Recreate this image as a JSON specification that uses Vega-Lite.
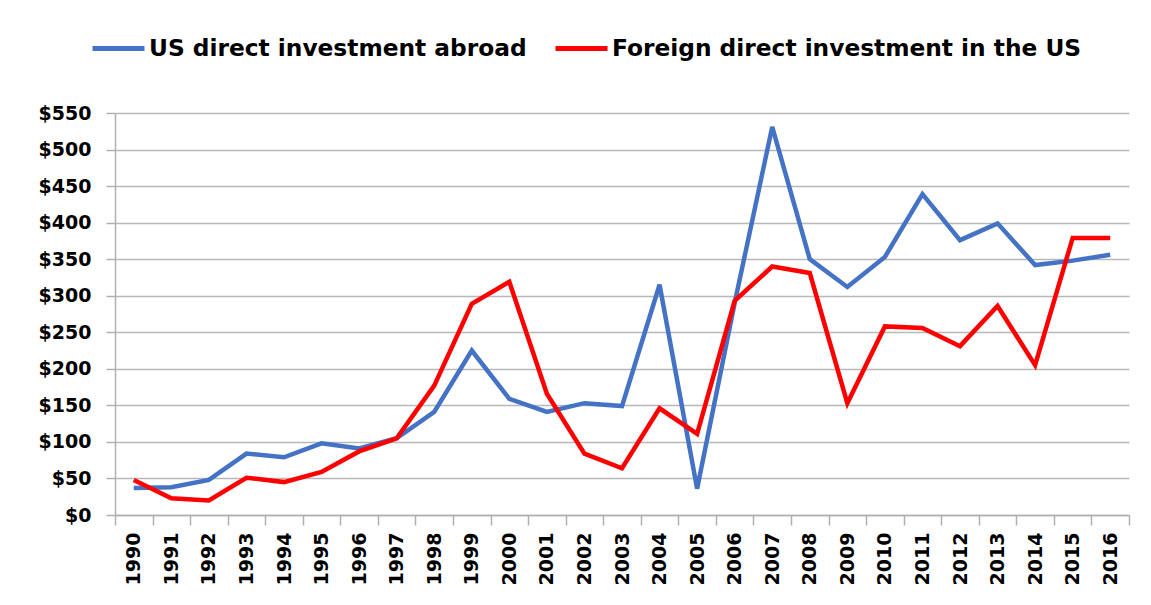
{
  "$schema": "https://vega.github.io/schema/vega-lite/v6.json",
  "width": 1014,
  "height": 402,
  "padding": {"left": 38, "top": 20, "right": 21, "bottom": 10},
  "background": "white",
  "config": {
    "font": "DejaVu Sans",
    "view": {"stroke": null}
  },
  "data": {
    "values": [
      {"year": "1990", "series": "US direct investment abroad", "value": 37},
      {"year": "1991", "series": "US direct investment abroad", "value": 38},
      {"year": "1992", "series": "US direct investment abroad", "value": 48},
      {"year": "1993", "series": "US direct investment abroad", "value": 84},
      {"year": "1994", "series": "US direct investment abroad", "value": 79},
      {"year": "1995", "series": "US direct investment abroad", "value": 98},
      {"year": "1996", "series": "US direct investment abroad", "value": 91},
      {"year": "1997", "series": "US direct investment abroad", "value": 105},
      {"year": "1998", "series": "US direct investment abroad", "value": 141},
      {"year": "1999", "series": "US direct investment abroad", "value": 225},
      {"year": "2000", "series": "US direct investment abroad", "value": 159},
      {"year": "2001", "series": "US direct investment abroad", "value": 141},
      {"year": "2002", "series": "US direct investment abroad", "value": 153},
      {"year": "2003", "series": "US direct investment abroad", "value": 149},
      {"year": "2004", "series": "US direct investment abroad", "value": 315},
      {"year": "2005", "series": "US direct investment abroad", "value": 36},
      {"year": "2006", "series": "US direct investment abroad", "value": 290},
      {"year": "2007", "series": "US direct investment abroad", "value": 531},
      {"year": "2008", "series": "US direct investment abroad", "value": 350},
      {"year": "2009", "series": "US direct investment abroad", "value": 312},
      {"year": "2010", "series": "US direct investment abroad", "value": 353},
      {"year": "2011", "series": "US direct investment abroad", "value": 439},
      {"year": "2012", "series": "US direct investment abroad", "value": 376},
      {"year": "2013", "series": "US direct investment abroad", "value": 399},
      {"year": "2014", "series": "US direct investment abroad", "value": 342},
      {"year": "2015", "series": "US direct investment abroad", "value": 348},
      {"year": "2016", "series": "US direct investment abroad", "value": 356},
      {"year": "1990", "series": "Foreign direct investment in the US", "value": 48},
      {"year": "1991", "series": "Foreign direct investment in the US", "value": 23},
      {"year": "1992", "series": "Foreign direct investment in the US", "value": 20},
      {"year": "1993", "series": "Foreign direct investment in the US", "value": 51},
      {"year": "1994", "series": "Foreign direct investment in the US", "value": 45},
      {"year": "1995", "series": "Foreign direct investment in the US", "value": 59},
      {"year": "1996", "series": "Foreign direct investment in the US", "value": 87},
      {"year": "1997", "series": "Foreign direct investment in the US", "value": 105},
      {"year": "1998", "series": "Foreign direct investment in the US", "value": 177},
      {"year": "1999", "series": "Foreign direct investment in the US", "value": 289},
      {"year": "2000", "series": "Foreign direct investment in the US", "value": 319},
      {"year": "2001", "series": "Foreign direct investment in the US", "value": 166},
      {"year": "2002", "series": "Foreign direct investment in the US", "value": 84},
      {"year": "2003", "series": "Foreign direct investment in the US", "value": 64},
      {"year": "2004", "series": "Foreign direct investment in the US", "value": 146},
      {"year": "2005", "series": "Foreign direct investment in the US", "value": 111},
      {"year": "2006", "series": "Foreign direct investment in the US", "value": 293},
      {"year": "2007", "series": "Foreign direct investment in the US", "value": 340},
      {"year": "2008", "series": "Foreign direct investment in the US", "value": 331},
      {"year": "2009", "series": "Foreign direct investment in the US", "value": 153},
      {"year": "2010", "series": "Foreign direct investment in the US", "value": 258},
      {"year": "2011", "series": "Foreign direct investment in the US", "value": 256},
      {"year": "2012", "series": "Foreign direct investment in the US", "value": 231},
      {"year": "2013", "series": "Foreign direct investment in the US", "value": 286},
      {"year": "2014", "series": "Foreign direct investment in the US", "value": 205},
      {"year": "2015", "series": "Foreign direct investment in the US", "value": 379},
      {"year": "2016", "series": "Foreign direct investment in the US", "value": 379}
    ]
  },
  "mark": {"type": "line", "strokeWidth": 4.5, "strokeJoin": "miter", "strokeCap": "butt"},
  "encoding": {
    "x": {
      "field": "year",
      "type": "ordinal",
      "scale": {"type": "band", "paddingInner": 0, "paddingOuter": 0},
      "axis": {
        "title": null,
        "labelAngle": -90,
        "labelFont": "DejaVu Sans",
        "labelFontWeight": "bold",
        "labelFontSize": 19,
        "labelColor": "black",
        "labelPadding": 7,
        "tickBand": "extent",
        "tickSize": 10,
        "tickWidth": 1.5,
        "tickColor": "#b0b0b0",
        "domainColor": "#b0b0b0",
        "domainWidth": 1.5,
        "grid": false
      }
    },
    "y": {
      "field": "value",
      "type": "quantitative",
      "scale": {"domain": [0, 550], "nice": false},
      "axis": {
        "title": null,
        "values": [0, 50, 100, 150, 200, 250, 300, 350, 400, 450, 500, 550],
        "labelExpr": "'$' + datum.value",
        "labelFont": "DejaVu Sans",
        "labelFontWeight": "bold",
        "labelFontSize": 19,
        "labelColor": "black",
        "labelPadding": 15,
        "tickSize": 9,
        "tickWidth": 1.5,
        "tickColor": "#b0b0b0",
        "domainColor": "#b0b0b0",
        "domainWidth": 1.5,
        "gridColor": "#b8b8b8",
        "gridWidth": 1.5
      }
    },
    "color": {
      "field": "series",
      "type": "nominal",
      "sort": ["US direct investment abroad", "Foreign direct investment in the US"],
      "scale": {
        "domain": ["US direct investment abroad", "Foreign direct investment in the US"],
        "range": ["#4472C4", "#FF0000"]
      },
      "legend": {
        "title": null,
        "orient": "none",
        "legendX": -25,
        "legendY": -93,
        "direction": "horizontal",
        "symbolType": "stroke",
        "symbolSize": 2700,
        "symbolStrokeWidth": 5,
        "labelFont": "DejaVu Sans",
        "labelFontWeight": "bold",
        "labelFontSize": 23.3,
        "labelColor": "black",
        "labelOffset": 2,
        "columnPadding": 18,
        "labelLimit": 600
      }
    }
  }
}
